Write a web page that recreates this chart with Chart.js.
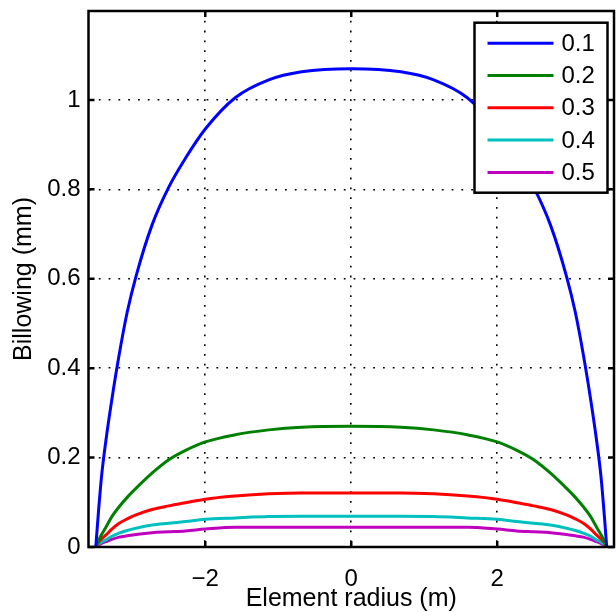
<!DOCTYPE html>
<html>
<head>
<meta charset="utf-8">
<script src="https://cdn.jsdelivr.net/npm/chart.js@4/dist/chart.umd.min.js"></script>
<style>
html,body{margin:0;padding:0;background:#fff;}
#wrap{width:616px;height:612px;}
</style>
</head>
<body>
<div id="wrap"><canvas id="c" width="616" height="612"></canvas></div>
<script>
// Element radius (m)
const radius = [-3.5, -3.47, -3.42, -3.36, -3.28, -3.18, -3.07, -2.95, -2.73, -2.5, -2.27, -2.0, -1.59, -1.13, -0.68, 0,
                0.68, 1.13, 1.59, 2.0, 2.27, 2.5, 2.73, 2.95, 3.07, 3.18, 3.28, 3.36, 3.42, 3.47, 3.5];
const seriesLabels = ['0.1', '0.2', '0.3', '0.4', '0.5'];
// Billowing (mm)
const billow01 = [0, 0.065, 0.16, 0.24, 0.33, 0.43, 0.525, 0.605, 0.72, 0.805, 0.87, 0.935, 1.005, 1.045, 1.063, 1.07,
                  1.063, 1.045, 1.005, 0.935, 0.87, 0.805, 0.72, 0.605, 0.525, 0.43, 0.33, 0.24, 0.16, 0.065, 0];
const billow02 = [0, 0.012, 0.028, 0.045, 0.068, 0.090, 0.111, 0.131, 0.165, 0.195, 0.216, 0.235, 0.251, 0.262, 0.268, 0.270,
                  0.268, 0.262, 0.251, 0.235, 0.216, 0.195, 0.165, 0.131, 0.111, 0.090, 0.068, 0.045, 0.028, 0.012, 0];
const billow03 = [0, 0.009, 0.018, 0.027, 0.040, 0.053, 0.063, 0.072, 0.084, 0.092, 0.099, 0.107, 0.114, 0.119, 0.121, 0.121,
                  0.121, 0.119, 0.114, 0.107, 0.099, 0.092, 0.084, 0.072, 0.063, 0.053, 0.040, 0.027, 0.018, 0.009, 0];
const billow04 = [0, 0.006, 0.011, 0.016, 0.024, 0.031, 0.037, 0.042, 0.049, 0.053, 0.057, 0.062, 0.065, 0.068, 0.069, 0.069,
                  0.069, 0.068, 0.065, 0.062, 0.057, 0.053, 0.049, 0.042, 0.037, 0.031, 0.024, 0.016, 0.011, 0.006, 0];
const billow05 = [0, 0.004, 0.008, 0.012, 0.017, 0.022, 0.025, 0.028, 0.032, 0.034, 0.036, 0.040, 0.044, 0.044, 0.044, 0.044,
                  0.044, 0.044, 0.044, 0.040, 0.036, 0.034, 0.032, 0.028, 0.025, 0.022, 0.017, 0.012, 0.008, 0.004, 0];
const xTicks = [-2, 0, 2];
const yTicks = [0, 0.2, 0.4, 0.6, 0.8, 1];
const xTickLabels = ['\u22122', '0', '2'];
const yTickLabels = ['0', '0.2', '0.4', '0.6', '0.8', '1'];

const allSeries = [billow01, billow02, billow03, billow04, billow05];
const colors = ['#0000ff', '#008000', '#ff0000', '#00bfbf', '#bf00bf'];
const FONT = '"Liberation Sans", Arial, sans-serif';
const FS = 24;

const datasets = allSeries.map((s, i) => ({
  label: seriesLabels[i],
  data: radius.map((x, j) => ({x: x, y: s[j]})),
  borderColor: colors[i],
  backgroundColor: colors[i],
  borderWidth: 3,
  pointRadius: 0,
  cubicInterpolationMode: 'monotone',
  fill: false
}));

const frame = {
  id: 'frame',
  afterDatasetsDraw(chart) {
    const ctx = chart.ctx, a = chart.chartArea;
    const xs = chart.scales.x, ys = chart.scales.y;
    ctx.save();
    ctx.strokeStyle = '#000';
    ctx.lineWidth = 2.5;
    ctx.strokeRect(a.left, a.top, a.right - a.left, a.bottom - a.top);
    const tl = 6;
    ctx.beginPath();
    xTicks.forEach(v => {
      const p = xs.getPixelForValue(v);
      ctx.moveTo(p, a.bottom); ctx.lineTo(p, a.bottom - tl);
      ctx.moveTo(p, a.top); ctx.lineTo(p, a.top + tl);
    });
    yTicks.forEach(v => {
      const p = ys.getPixelForValue(v);
      ctx.moveTo(a.left, p); ctx.lineTo(a.left + tl, p);
      ctx.moveTo(a.right, p); ctx.lineTo(a.right - tl, p);
    });
    ctx.stroke();

    // legend
    const bw = 133, bh = 170;
    const bx = a.right - 6.5 - bw, by = a.top + 11.7;
    ctx.fillStyle = '#fff';
    ctx.fillRect(bx, by, bw, bh);
    ctx.lineWidth = 2.5;
    ctx.strokeStyle = '#000';
    ctx.strokeRect(bx, by, bw, bh);
    ctx.font = FS + 'px ' + FONT;
    ctx.textBaseline = 'middle';
    ctx.textAlign = 'left';
    chart.data.datasets.forEach((d, i) => {
      const yy = by + 20.5 + i * 32.3;
      ctx.strokeStyle = d.borderColor;
      ctx.lineWidth = 3;
      ctx.beginPath();
      ctx.moveTo(bx + 13, yy); ctx.lineTo(bx + 79, yy);
      ctx.stroke();
      ctx.fillStyle = '#000';
      ctx.fillText(d.label, bx + 87, yy + 1);
    });
    ctx.restore();
  }
};

const gridOpts = { color: '#000', lineWidth: 1.6, drawTicks: false, tickLength: 0 };
const borderOpts = { display: false, dash: [1.8, 8] };

new Chart(document.getElementById('c'), {
  type: 'line',
  data: { datasets },
  options: {
    responsive: false,
    animation: false,
    devicePixelRatio: 1,
    layout: { padding: { top: 11, right: 2, left: 0, bottom: 0 } },
    plugins: { legend: { display: false }, tooltip: { enabled: false } },
    scales: {
      x: {
        type: 'linear',
        min: -3.6, max: 3.6,
        afterBuildTicks: s => { s.ticks = xTicks.map(v => ({value: v})); },
        afterFit: s => { s.height = 65; s.paddingLeft = 0; s.paddingRight = 0; },
        ticks: {
          color: '#000', font: { family: FONT, size: FS }, padding: 18,
          callback: (v) => xTickLabels[xTicks.indexOf(v)], maxRotation: 0, autoSkip: false
        },
        grid: gridOpts,
        border: borderOpts,
        title: { display: true, text: 'Element radius (m)', color: '#000', font: { family: FONT, size: FS + 1 }, padding: { top: 0, bottom: -2 } }
      },
      y: {
        min: 0, max: 1.199,
        afterBuildTicks: s => { s.ticks = yTicks.map(v => ({value: v})); },
        afterFit: s => { s.width = 88.5; s.paddingTop = 0; s.paddingBottom = 0; },
        ticks: {
          color: '#000', font: { family: FONT, size: FS }, padding: 8,
          callback: (v) => yTickLabels[yTicks.indexOf(v)], autoSkip: false
        },
        grid: gridOpts,
        border: borderOpts,
        title: { display: true, text: 'Billowing (mm)', color: '#000', font: { family: FONT, size: FS + 1 }, padding: { top: 9, bottom: 0 } }
      }
    }
  },
  plugins: [frame]
});
</script>
</body>
</html>
